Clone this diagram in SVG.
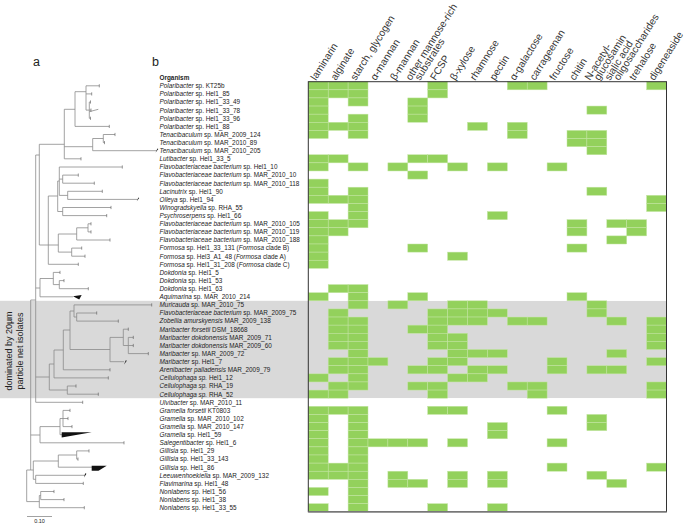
<svg xmlns="http://www.w3.org/2000/svg" width="685" height="524" viewBox="0 0 685 524">
<style>
text{font-family:"Liberation Sans",Arial,sans-serif;fill:#222}
.org{font-size:6.4px}
.i{font-style:italic}
.hd{font-size:10.2px;fill:#333}
.tree{fill:none;stroke:#8a8a8a;stroke-width:0.8}
.tick{fill:none;stroke:#555;stroke-width:0.6}
</style>
<defs>
<rect id="k" width="19.9" height="8.115"/>
</defs>
<rect width="685" height="524" fill="#fff"/>
<rect id="band" x="0" y="300.81" width="666.5" height="97.38" fill="#d9d9d9"/>

<text x="33" y="66" font-size="12.5">a</text>
<text x="152" y="66" font-size="12.5">b</text>

<g id="side-label">
<text transform="translate(11.6,351) rotate(-90)" text-anchor="middle" style="font-size:9px">dominated by 20µm</text>
<text transform="translate(22.6,351) rotate(-90)" text-anchor="middle" style="font-size:9px">particle net isolates</text>
</g>

<g id="headers">
<text class="hd" transform="translate(316,81) rotate(-58)">laminarin</text>
<text class="hd" transform="translate(335.9,81) rotate(-58)">alginate</text>
<text class="hd" transform="translate(355.8,81) rotate(-58)">starch, glycogen</text>
<text class="hd" transform="translate(375.7,81) rotate(-58)">α-mannan</text>
<text class="hd" transform="translate(395.6,81) rotate(-58)">β-mannan</text>
<text class="hd" transform="translate(415.5,81) rotate(-58)"><tspan x="-2.4" y="-3.9">other mannose-rich</tspan><tspan x="2.4" y="3.9">substrates</tspan></text>
<text class="hd" transform="translate(435.4,81) rotate(-58)">FCSP</text>
<text class="hd" transform="translate(455.3,81) rotate(-58)">β-xylose</text>
<text class="hd" transform="translate(475.2,81) rotate(-58)">rhamnose</text>
<text class="hd" transform="translate(495.1,81) rotate(-58)">pectin</text>
<text class="hd" transform="translate(515,81) rotate(-58)">α-galactose</text>
<text class="hd" transform="translate(534.9,81) rotate(-58)">carrageenan</text>
<text class="hd" transform="translate(554.8,81) rotate(-58)">fructose</text>
<text class="hd" transform="translate(574.7,81) rotate(-58)">chitin</text>
<text class="hd" transform="translate(594.6,81) rotate(-58)"><tspan x="-2.4" y="-3.9">N-acetyl-</tspan><tspan x="2.4" y="3.9">glucosamin</tspan></text>
<text class="hd" transform="translate(614.5,81) rotate(-58)"><tspan x="-2.4" y="-3.9">sialic acid</tspan><tspan x="2.4" y="3.9">oligosaccharides</tspan></text>
<text class="hd" transform="translate(634.4,81) rotate(-58)">trehalose</text>
<text class="hd" transform="translate(654.3,81) rotate(-58)">digeneaside</text>
</g>

<g id="grid-bg">
<rect x="308.3" y="81.7" width="358.2" height="219.11" fill="#fff"/>
<rect x="308.3" y="398.19" width="358.2" height="113.61" fill="#fff"/>
</g>

<g id="cells" fill="#93d15c" stroke="#c4e5a3" stroke-width="0.5">
<g transform="translate(0,81.7)"><use href="#k" x="308.3"/><use href="#k" x="328.2"/><use href="#k" x="348.1"/><use href="#k" x="427.7"/><use href="#k" x="507.3"/><use href="#k" x="527.2"/><use href="#k" x="646.6"/></g>
<g transform="translate(0,89.82)"><use href="#k" x="308.3"/><use href="#k" x="328.2"/><use href="#k" x="348.1"/><use href="#k" x="427.7"/></g>
<g transform="translate(0,97.93)"><use href="#k" x="308.3"/><use href="#k" x="348.1"/><use href="#k" x="407.8"/></g>
<g transform="translate(0,106.05)"><use href="#k" x="308.3"/><use href="#k" x="407.8"/><use href="#k" x="586.9"/></g>
<g transform="translate(0,114.16)"><use href="#k" x="308.3"/><use href="#k" x="348.1"/><use href="#k" x="407.8"/></g>
<g transform="translate(0,122.28)"><use href="#k" x="308.3"/><use href="#k" x="328.2"/><use href="#k" x="348.1"/><use href="#k" x="467.5"/><use href="#k" x="507.3"/></g>
<g transform="translate(0,130.39)"><use href="#k" x="308.3"/><use href="#k" x="348.1"/><use href="#k" x="507.3"/><use href="#k" x="567"/><use href="#k" x="586.9"/></g>
<g transform="translate(0,138.51)"><use href="#k" x="567"/><use href="#k" x="586.9"/></g>
<g transform="translate(0,146.62)"><use href="#k" x="586.9"/></g>
<g transform="translate(0,154.74)"><use href="#k" x="308.3"/><use href="#k" x="328.2"/><use href="#k" x="407.8"/><use href="#k" x="427.7"/></g>
<g transform="translate(0,162.85)"><use href="#k" x="308.3"/><use href="#k" x="348.1"/><use href="#k" x="387.9"/><use href="#k" x="447.6"/><use href="#k" x="487.4"/><use href="#k" x="547.1"/></g>
<g transform="translate(0,170.97)"><use href="#k" x="407.8"/></g>
<g transform="translate(0,179.08)"><use href="#k" x="308.3"/></g>
<g transform="translate(0,187.2)"><use href="#k" x="308.3"/><use href="#k" x="348.1"/><use href="#k" x="586.9"/></g>
<g transform="translate(0,195.31)"><use href="#k" x="308.3"/><use href="#k" x="328.2"/><use href="#k" x="348.1"/><use href="#k" x="646.6"/></g>
<g transform="translate(0,203.43)"><use href="#k" x="348.1"/><use href="#k" x="646.6"/></g>
<g transform="translate(0,211.54)"><use href="#k" x="308.3"/><use href="#k" x="348.1"/><use href="#k" x="487.4"/></g>
<g transform="translate(0,219.66)"><use href="#k" x="308.3"/><use href="#k" x="328.2"/><use href="#k" x="348.1"/><use href="#k" x="567"/><use href="#k" x="606.8"/><use href="#k" x="626.7"/></g>
<g transform="translate(0,227.77)"><use href="#k" x="308.3"/><use href="#k" x="328.2"/><use href="#k" x="567"/><use href="#k" x="626.7"/></g>
<g transform="translate(0,235.89)"><use href="#k" x="308.3"/><use href="#k" x="606.8"/></g>
<g transform="translate(0,244)"><use href="#k" x="308.3"/><use href="#k" x="407.8"/><use href="#k" x="567"/></g>
<g transform="translate(0,252.12)"><use href="#k" x="308.3"/><use href="#k" x="447.6"/></g>
<g transform="translate(0,260.23)"><use href="#k" x="308.3"/></g>
<g transform="translate(0,284.58)"><use href="#k" x="328.2"/><use href="#k" x="348.1"/></g>
<g transform="translate(0,292.69)"><use href="#k" x="308.3"/><use href="#k" x="348.1"/><use href="#k" x="407.8"/><use href="#k" x="567"/></g>
<g transform="translate(0,300.81)"><use href="#k" x="348.1"/><use href="#k" x="387.9"/><use href="#k" x="447.6"/><use href="#k" x="467.5"/><use href="#k" x="586.9"/></g>
<g transform="translate(0,308.92)"><use href="#k" x="328.2"/><use href="#k" x="427.7"/><use href="#k" x="447.6"/><use href="#k" x="467.5"/><use href="#k" x="487.4"/><use href="#k" x="586.9"/></g>
<g transform="translate(0,317.04)"><use href="#k" x="328.2"/><use href="#k" x="348.1"/><use href="#k" x="427.7"/><use href="#k" x="447.6"/><use href="#k" x="467.5"/><use href="#k" x="507.3"/><use href="#k" x="527.2"/><use href="#k" x="606.8"/><use href="#k" x="646.6"/></g>
<g transform="translate(0,325.15)"><use href="#k" x="328.2"/><use href="#k" x="348.1"/><use href="#k" x="407.8"/><use href="#k" x="427.7"/><use href="#k" x="646.6"/></g>
<g transform="translate(0,333.27)"><use href="#k" x="328.2"/><use href="#k" x="348.1"/><use href="#k" x="427.7"/><use href="#k" x="447.6"/><use href="#k" x="646.6"/></g>
<g transform="translate(0,341.38)"><use href="#k" x="328.2"/><use href="#k" x="348.1"/><use href="#k" x="427.7"/><use href="#k" x="447.6"/><use href="#k" x="646.6"/></g>
<g transform="translate(0,349.5)"><use href="#k" x="348.1"/><use href="#k" x="447.6"/><use href="#k" x="467.5"/><use href="#k" x="487.4"/><use href="#k" x="606.8"/></g>
<g transform="translate(0,357.61)"><use href="#k" x="328.2"/><use href="#k" x="348.1"/><use href="#k" x="368"/><use href="#k" x="427.7"/><use href="#k" x="447.6"/><use href="#k" x="547.1"/><use href="#k" x="646.6"/></g>
<g transform="translate(0,365.73)"><use href="#k" x="328.2"/><use href="#k" x="348.1"/><use href="#k" x="407.8"/><use href="#k" x="427.7"/><use href="#k" x="467.5"/><use href="#k" x="487.4"/><use href="#k" x="547.1"/><use href="#k" x="586.9"/><use href="#k" x="606.8"/></g>
<g transform="translate(0,373.84)"><use href="#k" x="308.3"/><use href="#k" x="348.1"/><use href="#k" x="447.6"/><use href="#k" x="467.5"/></g>
<g transform="translate(0,381.96)"><use href="#k" x="328.2"/><use href="#k" x="348.1"/><use href="#k" x="407.8"/><use href="#k" x="427.7"/><use href="#k" x="507.3"/><use href="#k" x="527.2"/><use href="#k" x="646.6"/></g>
<g transform="translate(0,390.07)"><use href="#k" x="308.3"/><use href="#k" x="328.2"/><use href="#k" x="427.7"/><use href="#k" x="527.2"/><use href="#k" x="646.6"/></g>
<g transform="translate(0,406.3)"><use href="#k" x="308.3"/><use href="#k" x="328.2"/><use href="#k" x="348.1"/><use href="#k" x="427.7"/><use href="#k" x="447.6"/><use href="#k" x="547.1"/></g>
<g transform="translate(0,414.42)"><use href="#k" x="308.3"/><use href="#k" x="348.1"/><use href="#k" x="586.9"/></g>
<g transform="translate(0,422.53)"><use href="#k" x="308.3"/><use href="#k" x="348.1"/><use href="#k" x="487.4"/><use href="#k" x="586.9"/></g>
<g transform="translate(0,430.65)"><use href="#k" x="308.3"/><use href="#k" x="348.1"/><use href="#k" x="487.4"/></g>
<g transform="translate(0,438.76)"><use href="#k" x="308.3"/><use href="#k" x="348.1"/><use href="#k" x="368"/><use href="#k" x="387.9"/><use href="#k" x="407.8"/><use href="#k" x="447.6"/><use href="#k" x="547.1"/></g>
<g transform="translate(0,446.88)"><use href="#k" x="308.3"/><use href="#k" x="348.1"/></g>
<g transform="translate(0,454.99)"><use href="#k" x="308.3"/><use href="#k" x="348.1"/></g>
<g transform="translate(0,463.11)"><use href="#k" x="308.3"/><use href="#k" x="328.2"/><use href="#k" x="348.1"/><use href="#k" x="547.1"/><use href="#k" x="646.6"/></g>
<g transform="translate(0,471.22)"><use href="#k" x="308.3"/><use href="#k" x="328.2"/><use href="#k" x="348.1"/><use href="#k" x="387.9"/><use href="#k" x="447.6"/><use href="#k" x="487.4"/><use href="#k" x="586.9"/></g>
<g transform="translate(0,479.34)"><use href="#k" x="348.1"/><use href="#k" x="387.9"/><use href="#k" x="407.8"/><use href="#k" x="447.6"/><use href="#k" x="487.4"/><use href="#k" x="606.8"/></g>
<g transform="translate(0,487.45)"><use href="#k" x="308.3"/><use href="#k" x="348.1"/></g>
<g transform="translate(0,495.57)"><use href="#k" x="348.1"/></g>
<g transform="translate(0,503.68)"><use href="#k" x="308.3"/><use href="#k" x="348.1"/><use href="#k" x="427.7"/><use href="#k" x="487.4"/></g>
</g>

<g id="grid-frame" fill="none">
<rect x="308.3" y="81.7" width="358.2" height="430.1" stroke="#333" stroke-width="1"/>
<line x1="308.3" y1="511.8" x2="666.5" y2="511.8" stroke="#777" stroke-width="1.4"/>
</g>

<g id="organisms">
<text class="org" x="159.5" y="79.6" font-weight="bold">Organism</text>
<text class="org" x="159.5" y="88.1"><tspan class="i">Polaribacter</tspan> sp. KT25b</text>
<text class="org" x="159.5" y="96.2"><tspan class="i">Polaribacter</tspan> sp. Hel1_85</text>
<text class="org" x="159.5" y="104.3"><tspan class="i">Polaribacter</tspan> sp. Hel1_33_49</text>
<text class="org" x="159.5" y="112.5"><tspan class="i">Polaribacter</tspan> sp. Hel1_33_78</text>
<text class="org" x="159.5" y="120.6"><tspan class="i">Polaribacter</tspan> sp. Hel1_33_96</text>
<text class="org" x="159.5" y="128.7"><tspan class="i">Polaribacter</tspan> sp. Hel1_88</text>
<text class="org" x="159.5" y="136.8"><tspan class="i">Tenacibaculum</tspan> sp. MAR_2009_124</text>
<text class="org" x="159.5" y="144.9"><tspan class="i">Tenacibaculum</tspan> sp. MAR_2010_89</text>
<text class="org" x="159.5" y="153"><tspan class="i">Tenacibaculum</tspan> sp. MAR_2010_205</text>
<text class="org" x="159.5" y="161.1"><tspan class="i">Lutibacter</tspan> sp. Hel1_33_5</text>
<text class="org" x="159.5" y="169.3"><tspan class="i">Flavobacteriaceae bacterium</tspan> sp. Hel1_10</text>
<text class="org" x="159.5" y="177.4"><tspan class="i">Flavobacteriaceae bacterium</tspan> sp. MAR_2010_10</text>
<text class="org" x="159.5" y="185.5"><tspan class="i">Flavobacteriaceae bacterium</tspan> sp. MAR_2010_118</text>
<text class="org" x="159.5" y="193.6"><tspan class="i">Lacinutrix</tspan> sp. Hel1_90</text>
<text class="org" x="159.5" y="201.7"><tspan class="i">Olleya</tspan> sp. Hel1_94</text>
<text class="org" x="159.5" y="209.8"><tspan class="i">Winogradskyella</tspan> sp. RHA_55</text>
<text class="org" x="159.5" y="217.9"><tspan class="i">Psychroserpens</tspan> sp. Hel1_66</text>
<text class="org" x="159.5" y="226.1"><tspan class="i">Flavobacteriaceae bacterium</tspan> sp. MAR_2010_105</text>
<text class="org" x="159.5" y="234.2"><tspan class="i">Flavobacteriaceae bacterium</tspan> sp. MAR_2010_119</text>
<text class="org" x="159.5" y="242.3"><tspan class="i">Flavobacteriaceae bacterium</tspan> sp. MAR_2010_188</text>
<text class="org" x="159.5" y="250.4"><tspan class="i">Formosa</tspan> sp. Hel1_33_131 (<tspan class="i">Formosa</tspan> clade B)</text>
<text class="org" x="159.5" y="258.5"><tspan class="i">Formosa</tspan> sp. Hel3_A1_48 (<tspan class="i">Formosa</tspan> clade A)</text>
<text class="org" x="159.5" y="266.6"><tspan class="i">Formosa</tspan> sp. Hel1_31_208 (<tspan class="i">Formosa</tspan> clade C)</text>
<text class="org" x="159.5" y="274.8"><tspan class="i">Dokdonia</tspan> sp. Hel1_5</text>
<text class="org" x="159.5" y="282.9"><tspan class="i">Dokdonia</tspan> sp. Hel1_53</text>
<text class="org" x="159.5" y="291"><tspan class="i">Dokdonia</tspan> sp. Hel1_63</text>
<text class="org" x="159.5" y="299.1"><tspan class="i">Aquimarina</tspan> sp. MAR_2010_214</text>
<text class="org" x="159.5" y="307.2"><tspan class="i">Muricauda</tspan> sp. MAR_2010_75</text>
<text class="org" x="159.5" y="315.3"><tspan class="i">Flavobacteriaceae bacterium</tspan> sp. MAR_2009_75</text>
<text class="org" x="159.5" y="323.4"><tspan class="i">Zobellia amurskyensis</tspan> MAR_2009_138</text>
<text class="org" x="159.5" y="331.6"><tspan class="i">Maribacter forsetii</tspan> DSM_18668</text>
<text class="org" x="159.5" y="339.7"><tspan class="i">Maribacter dokdonensis</tspan> MAR_2009_71</text>
<text class="org" x="159.5" y="347.8"><tspan class="i">Maribacter dokdonensis</tspan> MAR_2009_60</text>
<text class="org" x="159.5" y="355.9"><tspan class="i">Maribacter</tspan> sp. MAR_2009_72</text>
<text class="org" x="159.5" y="364"><tspan class="i">Maribacter</tspan> sp. Hel1_7</text>
<text class="org" x="159.5" y="372.1"><tspan class="i">Arenibacter palladensis</tspan> MAR_2009_79</text>
<text class="org" x="159.5" y="380.2"><tspan class="i">Cellulophaga sp.</tspan> Hel1_12</text>
<text class="org" x="159.5" y="388.4"><tspan class="i">Cellulophaga sp.</tspan> RHA_19</text>
<text class="org" x="159.5" y="396.5"><tspan class="i">Cellulophaga sp.</tspan> RHA_52</text>
<text class="org" x="159.5" y="404.6"><tspan class="i">Ulvibacter</tspan> sp. MAR_2010_11</text>
<text class="org" x="159.5" y="412.7"><tspan class="i">Gramella forsetii</tspan> KT0803</text>
<text class="org" x="159.5" y="420.8"><tspan class="i">Gramella</tspan> sp. MAR_2010_102</text>
<text class="org" x="159.5" y="428.9"><tspan class="i">Gramella</tspan> sp. MAR_2010_147</text>
<text class="org" x="159.5" y="437.1"><tspan class="i">Gramella</tspan> sp. Hel1_59</text>
<text class="org" x="159.5" y="445.2"><tspan class="i">Salegentibacter</tspan> sp. Hel1_6</text>
<text class="org" x="159.5" y="453.3"><tspan class="i">Gillisia</tspan> sp. Hel1_29</text>
<text class="org" x="159.5" y="461.4"><tspan class="i">Gillisia</tspan> sp. Hel1_33_143</text>
<text class="org" x="159.5" y="469.5"><tspan class="i">Gillisia</tspan> sp. Hel1_86</text>
<text class="org" x="159.5" y="477.6"><tspan class="i">Leeuwenhoekiella</tspan> sp. MAR_2009_132</text>
<text class="org" x="159.5" y="485.7"><tspan class="i">Flavimarina</tspan> sp. Hel1_48</text>
<text class="org" x="159.5" y="493.9"><tspan class="i">Nonlabens</tspan> sp. Hel1_56</text>
<text class="org" x="159.5" y="502"><tspan class="i">Nonlabens</tspan> sp. Hel1_38</text>
<text class="org" x="159.5" y="510.1"><tspan class="i">Nonlabens</tspan> sp. Hel1_33_55</text>
</g>

<g id="tree">
<path class="tree" d="M86,85.8H99.3M86,85.8V110.1M86,93.9H91.7M86,110.1H89.3M89.3,102V118.3M89.3,102H90.5M89.3,110.1H91M89.3,118.3H90.5M89.3,111.7L98.3,109.3M75,91.7H86M75,91.7V126.4M75,126.4H109.3M64.3,109.3H75M64.3,109.3V158.8M103.3,134.5V142.6M103.3,134.5H115M103.3,142.6H104.5M92.7,138.5H103.3M92.7,138.5V150.7M92.7,150.7H156.7M64.3,146.7H92.7M64.3,158.8H81M39.3,144.3H64.3M39.3,144.3V245
M59.3,167H122.3M59.3,167V195.4M62.7,175.1V183.2M62.7,175.1H78.3M62.7,183.2H94.3M59.3,179.1H62.7M67.7,191.3V199.4M67.7,191.3H102.3M67.7,199.4H137.7M59.3,195.4H67.7M57.7,181V211.5M57.7,181H59.3M62.7,207.5V215.6M62.7,207.5H111M62.7,215.6H106.7M57.7,211.5H62.7M88,223.8V231.9M88,223.8H91M88,231.9H91M76.7,227.8V240M76.7,227.8H88M76.7,240H110M71.7,248.1V256.2M71.7,248.1H81.7M71.7,256.2H85M58.3,234V252.1M58.3,234H76.7M58.3,252.1H71.7M48.3,196V264.3M48.3,196H57.7M48.3,245H58.3M48.3,264.3H78.3M39.3,245H48.3
M59.3,280.6V288.7M59.3,280.6H64M59.3,288.7H88.3M53.3,272.4V284.6M53.3,272.4H60M53.3,284.6H59.3M40,278.5V296.8M40,278.5H53.3M40,296.8H73M35.7,288H40M35.7,155V402.3M35.7,155H39.3
M128.3,337.4V353.6M128.3,337.4H133.3M128.3,345.5H133.3M128.3,353.6H148.3M123.3,329.2V345.5M123.3,329.2H128.3M123.3,345.5H128.3M110,337.4V361.7M110,337.4H123.3M110,361.7H124M76.7,313V321.1M76.7,313H96.7M76.7,321.1H118.3M74,304.9V317M74,304.9H151.7M74,317H76.7M70,311V349.5M70,311H74M70,349.5H110M63.3,330V369.8M63.3,330H70M63.3,369.8H110M54,350V377.9M54,350H63.3M54,377.9H108.3M67.3,386V394.2M67.3,386H76M67.3,394.2H98.3M49.3,364V390M49.3,364H54M49.3,390H67.3M35.7,377H49.3M35.7,402.3H82.7
M63,410.4V426.6M63,410.4H70M63,418.5H68M63,426.6H72M60,418.5V434.7M60,418.5H63M60,434.7H62M40,426.6V442.8M40,426.6H60M40,442.8H124M30.7,435H40M76.7,450.9V459.1M76.7,450.9H89M76.7,459.1H78M58.3,455V467.2M58.3,455H76.7M58.3,467.2H92M33.3,461H58.3M35.7,475.3V483.4M35.7,475.3H85M35.7,483.4H83.3M33.3,461V479.3M33.3,479.3H35.7M30.7,300V470M30.7,300H35.7M30.7,470H33.3M40.7,491.5V499.6M40.7,491.5H54M40.7,499.6H64M39.3,495.5V507.7M39.3,495.5H40.7M39.3,507.7H84.3M26.7,470V501.6M26.7,470H30.7M26.7,501.6H39.3"/>
<path class="tick" d="M99.3,84.2v3.2M91.7,92.3v3.2M90.5,100.4v3.2M91,108.5v3.2M90.5,116.7v3.2M109.3,124.8v3.2M115,132.9v3.2M104.5,141v3.2M81,157.2v3.2M122.3,165.4v3.2M78.3,173.5v3.2M94.3,181.6v3.2M102.3,189.7v3.2M111,205.9v3.2M106.7,214v3.2M91,222.2v3.2M91,230.3v3.2M110,238.4v3.2M81.7,246.5v3.2M85,254.6v3.2M78.3,262.7v3.2M60,270.8v3.2M64,279v3.2M88.3,287.1v3.2M151.7,303.3v3.2M96.7,311.4v3.2M118.3,319.5v3.2M128.3,327.6v3.2M133.3,335.8v3.2M133.3,343.9v3.2M148.3,352v3.2M110,368.2v3.2M108.3,376.3v3.2M76,384.4v3.2M98.3,392.6v3.2M82.7,400.7v3.2M70,408.8v3.2M68,416.9v3.2M72,425v3.2M124,441.2v3.2M89,449.3v3.2M78,457.5v3.2M83.3,481.8v3.2M54,489.9v3.2M64,498v3.2M84.3,506.1v3.2"/>
<g id="collapsed" fill="#111">
<polygon points="155.6,152.4 157.4,148.4 158.3,149"/>
<polygon points="136.8,201.2 138.4,197.4 139.2,198"/>
<polygon points="73,296.3 81.7,294.9 79.2,299.4"/>
<polygon points="124,364.6 125.8,360.2 126.8,360.8"/>
<polygon points="61.7,432.2 91.7,432.2 61.7,437.4"/>
<polygon points="91.7,465.8 106.7,465.8 98.5,470.7 91.7,470.7"/>
<polygon points="84,477.4 85.2,473.3 86.4,473.8"/>
</g>
</g>

<g id="scale">
<line x1="27" y1="516.5" x2="52" y2="516.5" stroke="#8a8a8a" stroke-width="0.8"/>
<text x="39.5" y="523" font-size="5.5" text-anchor="middle">0.10</text>
</g>
</svg>
